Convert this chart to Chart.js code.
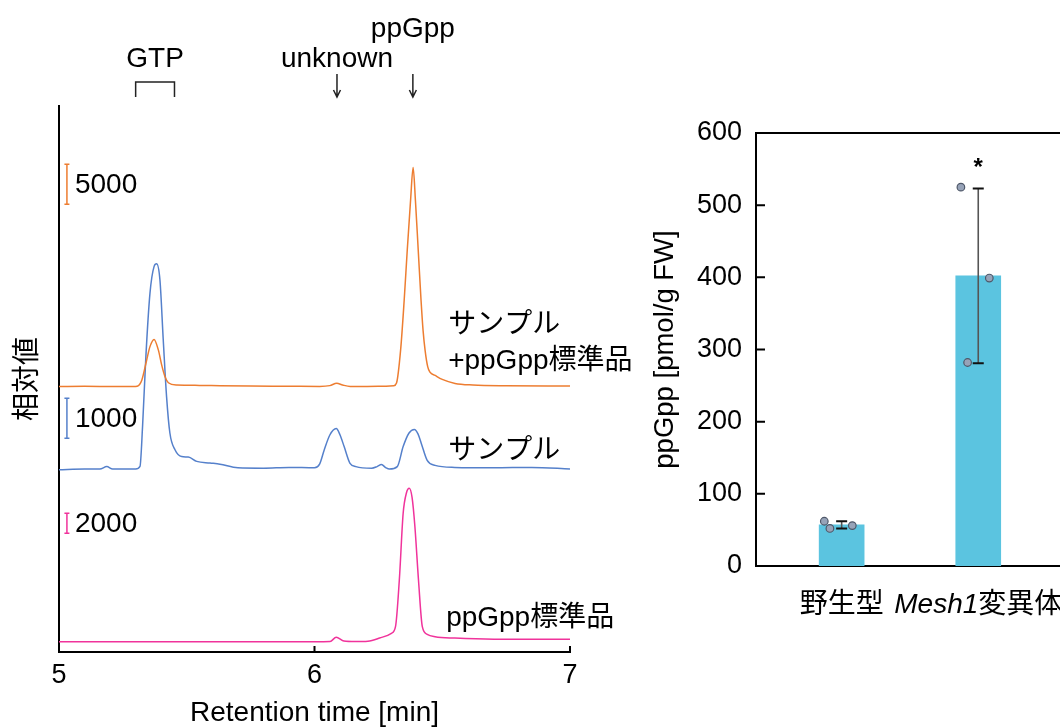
<!DOCTYPE html>
<html lang="ja">
<head>
<meta charset="utf-8">
<title>ppGpp</title>
<script src="https://cdn.jsdelivr.net/npm/chart.js@4.4.1/dist/chart.umd.min.js"></script>
<style>
  html, body { margin: 0; padding: 0; width: 1060px; height: 727px; overflow: hidden; background: #fff; }
  canvas { position: absolute; top: 0; }
  #hplc { left: 0; }
  #bars { left: 620px; }
</style>
</head>
<body>
<canvas id="hplc" width="640" height="727"></canvas>
<canvas id="bars" width="640" height="727"></canvas>
<script>
const FONT = "'Liberation Sans', Arial, 'Noto Sans CJK JP', sans-serif";
const BLACK = "#000";

Chart.defaults.font.family = FONT;
Chart.defaults.color = BLACK;

// ---- chromatograms ----
const timeTicks = [5, 6, 7];

// サンプル+ppGpp標準品 (orange)
const spikedTime = [5.00, 5.10, 5.20, 5.29, 5.306, 5.324, 5.343, 5.356, 5.372, 5.389, 5.402, 5.415, 5.428, 5.461, 5.55, 5.63, 5.75, 5.90, 6.02, 6.06, 6.087, 6.11, 6.14, 6.25, 6.31, 6.321, 6.337, 6.351, 6.363, 6.376, 6.386, 6.395, 6.406, 6.417, 6.425, 6.433, 6.443, 6.452, 6.472, 6.50, 6.55, 6.62, 6.75, 7.00];
const spikedSignal = [0, 30, 10, 0, 50, 800, 3300, 5000, 5900, 4560, 2690, 1230, 480, 190, 150, 100, 60, 40, 20, 120, 420, 200, 20, 30, 100, 440, 4560, 10800, 17060, 23300, 27400, 23300, 17060, 10800, 7000, 4500, 2500, 1800, 1400, 900, 400, 200, 100, 60];

// サンプル (blue)
const sampleTime = [5.00, 5.10, 5.16, 5.187, 5.21, 5.30, 5.317, 5.327, 5.34, 5.356, 5.372, 5.382, 5.395, 5.408, 5.421, 5.434, 5.454, 5.48, 5.506, 5.539, 5.591, 5.63, 5.70, 5.80, 5.90, 6.00, 6.02, 6.038, 6.06, 6.085, 6.10, 6.116, 6.139, 6.162, 6.224, 6.245, 6.262, 6.28, 6.293, 6.324, 6.347, 6.37, 6.391, 6.405, 6.418, 6.441, 6.472, 6.549, 6.70, 6.85, 7.00];
const sampleSignal = [-20, 0, 0, 60, 0, 0, 65, 1060, 2810, 4390, 5060, 5130, 4730, 3230, 1810, 900, 480, 310, 300, 190, 150, 120, 30, 20, 40, 30, 120, 475, 850, 1010, 850, 560, 140, 60, 20, 60, 110, 30, 0, 60, 560, 900, 990, 880, 640, 215, 90, 40, 30, 40, 0];

// ppGpp標準品 (pink)
const standardTime = [5.00, 5.50, 6.00, 6.061, 6.085, 6.115, 6.16, 6.209, 6.255, 6.301, 6.317, 6.332, 6.347, 6.36, 6.371, 6.382, 6.393, 6.407, 6.422, 6.441, 6.472, 6.549, 6.703, 7.00];
const standardSignal = [0, 0, 0, 20, 440, 70, 20, 50, 370, 840, 1500, 6170, 12840, 14900, 15340, 14400, 11500, 6170, 1500, 740, 500, 360, 250, 250];

// scale bars (signal units) and where each one starts on its trace axis
const barLengths = [5000, 1000, 2000];
const barStarts = [22800, 770, 10840];

// peak marks above the traces [min]
const gtpWindow = [5.30, 5.452];
const unknownPeak = 6.088;
const ppGppPeak = 6.385;

// ---- ppGpp content ----
const groups = ["野生型", "Mesh1変異体"];
const geneNames = ["", "Mesh1"];
const means = [57, 402];
const sds = [5, 121];
const replicates = [[62, 52, 56], [525, 399, 282]];
const marks = ["", "*"];
const valueTicks = [0, 100, 200, 300, 400, 500, 600];

// styles
const traceColors = ["#ED7D31", "#5580CB", "#F0339B"];
const traceAxes = ["yS", "yA", "yP"];
const jitter = [[-0.127, -0.086, 0.078], [-0.127, 0.081, -0.078]];
const LABEL = "28px " + FONT;

const pts = (t, v) => t.map((x, i) => ({ x, y: v[i] }));

function trace(label, t, v, i) {
  return {
    label,
    data: pts(t, v),
    yAxisID: traceAxes[i],
    borderColor: traceColors[i],
    borderWidth: 1.5,
    pointRadius: 0,
    cubicInterpolationMode: "monotone",
    fill: false,
  };
}

function text(ctx, str, x, y, align) {
  ctx.textAlign = align || "center";
  ctx.fillText(str, x, y);
}

function arrow(ctx, x, y0, y1) {
  ctx.beginPath();
  ctx.moveTo(x, y0);
  ctx.lineTo(x, y1);
  ctx.moveTo(x - 3.5, y1 - 7);
  ctx.lineTo(x, y1);
  ctx.lineTo(x + 3.5, y1 - 7);
  ctx.stroke();
}

const hplcMarks = {
  id: "hplcMarks",
  afterDraw(chart) {
    const { ctx, chartArea, scales } = chart;
    const xs = scales.x;
    ctx.save();
    ctx.lineWidth = 2;
    ctx.strokeStyle = BLACK;
    xs.ticks.forEach((t) => {
      const px = xs.getPixelForValue(t.value);
      ctx.beginPath();
      ctx.moveTo(px, chartArea.bottom);
      ctx.lineTo(px, chartArea.bottom - 6);
      ctx.stroke();
    });

    // scale bars
    const bx = xs.getPixelForValue(5.031);
    ctx.font = LABEL;
    ctx.textBaseline = "middle";
    ctx.fillStyle = BLACK;
    barLengths.forEach((len, i) => {
      const ys = scales[traceAxes[i]];
      const y0 = ys.getPixelForValue(barStarts[i]);
      const y1 = ys.getPixelForValue(barStarts[i] + len);
      ctx.strokeStyle = traceColors[i];
      ctx.lineWidth = 1.5;
      ctx.beginPath();
      ctx.moveTo(bx, y0); ctx.lineTo(bx, y1);
      ctx.moveTo(bx - 2.5, y0); ctx.lineTo(bx + 2.5, y0);
      ctx.moveTo(bx - 2.5, y1); ctx.lineTo(bx + 2.5, y1);
      ctx.stroke();
      text(ctx, String(len), bx + 8, (y0 + y1) / 2 + 1, "left");
    });

    // peak labels
    ctx.strokeStyle = "#222";
    ctx.lineWidth = 1.5;
    const g0 = xs.getPixelForValue(gtpWindow[0]);
    const g1 = xs.getPixelForValue(gtpWindow[1]);
    ctx.beginPath();
    ctx.moveTo(g0, 97); ctx.lineTo(g0, 82); ctx.lineTo(g1, 82); ctx.lineTo(g1, 97);
    ctx.stroke();
    text(ctx, "GTP", (g0 + g1) / 2, 59);
    const pu = xs.getPixelForValue(unknownPeak);
    const pp = xs.getPixelForValue(ppGppPeak);
    text(ctx, "unknown", pu, 59);
    text(ctx, "ppGpp", pp, 29);
    arrow(ctx, pu, 74, 97);
    arrow(ctx, pp, 74, 97);

    // trace names
    const lx = xs.getPixelForValue(6.523);
    text(ctx, "サンプル", lx, 325, "left");
    text(ctx, "+ppGpp標準品", lx, 361, "left");
    text(ctx, "サンプル", lx, 451, "left");
    text(ctx, "ppGpp標準品", lx - 2, 618, "left");
    ctx.restore();
  },
};

new Chart(document.getElementById("hplc"), {
  type: "line",
  data: {
    datasets: [
      trace("サンプル+ppGpp標準品", spikedTime, spikedSignal, 0),
      trace("サンプル", sampleTime, sampleSignal, 1),
      trace("ppGpp標準品", standardTime, standardSignal, 2),
    ],
  },
  options: {
    responsive: false,
    animation: false,
    devicePixelRatio: 1,
    layout: { padding: { left: 0, top: 106, right: 70, bottom: 0 } },
    plugins: { legend: { display: false }, tooltip: { enabled: false } },
    scales: {
      x: {
        type: "linear",
        min: 5,
        max: 7,
        afterBuildTicks: (s) => { s.ticks = timeTicks.map((value) => ({ value })); },
        grid: { display: false, drawTicks: false },
        border: { display: true, color: BLACK, width: 2 },
        ticks: { font: { size: 27 }, color: BLACK, padding: 7 },
        title: { display: true, text: "Retention time [min]", font: { size: 28, lineHeight: 1 }, color: BLACK, padding: 0 },
        afterFit: (s) => { s.height = 75; },
      },
      yS: {
        type: "linear",
        position: "left",
        min: -33200,
        max: 35100,
        grid: { display: false, drawTicks: false },
        border: { display: true, color: BLACK, width: 2 },
        ticks: { display: false },
        title: { display: true, text: "相対値", font: { size: 28, lineHeight: 1 }, color: BLACK, padding: { top: 14, bottom: 0 } },
        afterFit: (s) => { s.width = 59; },
      },
      yA: { type: "linear", display: false, min: -4575, max: 9075 },
      yP: { type: "linear", display: false, min: -1030, max: 53570 },
    },
  },
  plugins: [hplcMarks],
});

const barMarks = {
  id: "barMarks",
  afterDatasetDraw(chart, args) {
    if (args.index !== 1) return;
    const { ctx, scales } = chart;
    ctx.save();
    means.forEach((m, i) => {
      const x = scales.x.getPixelForValue(i);
      const top = scales.y.getPixelForValue(m + sds[i]);
      const bot = scales.y.getPixelForValue(m - sds[i]);
      ctx.strokeStyle = "#555";
      ctx.lineWidth = 1.6;
      ctx.beginPath();
      ctx.moveTo(x, top); ctx.lineTo(x, bot);
      ctx.stroke();
      ctx.strokeStyle = "#111";
      ctx.lineWidth = 2;
      ctx.beginPath();
      ctx.moveTo(x - 5.5, top); ctx.lineTo(x + 5.5, top);
      ctx.moveTo(x - 5.5, bot); ctx.lineTo(x + 5.5, bot);
      ctx.stroke();
    });
    ctx.restore();
  },
  afterDraw(chart) {
    const { ctx, chartArea, scales } = chart;
    ctx.save();
    ctx.strokeStyle = BLACK;
    ctx.lineWidth = 2;
    ctx.beginPath();
    ctx.moveTo(chartArea.left, chartArea.top);
    ctx.lineTo(chartArea.right, chartArea.top);
    scales.y.ticks.forEach((t) => {
      const py = scales.y.getPixelForValue(t.value);
      ctx.moveTo(chartArea.left, py);
      ctx.lineTo(chartArea.left + 9, py);
    });
    ctx.stroke();

    ctx.fillStyle = BLACK;
    ctx.textBaseline = "middle";
    groups.forEach((g, i) => {
      const x = scales.x.getPixelForValue(i);
      const gene = geneNames[i];
      const rest = gene ? g.slice(gene.length) : g;
      ctx.font = "italic " + LABEL;
      const wg = gene ? ctx.measureText(gene).width : 0;
      ctx.font = LABEL;
      const wr = ctx.measureText(rest).width;
      let left = x - (wg + wr) / 2;
      ctx.textAlign = "left";
      if (gene) {
        ctx.font = "italic " + LABEL;
        ctx.fillText(gene, left, 605);
        left += wg;
      }
      ctx.font = LABEL;
      ctx.fillText(rest, left, 605);

      if (marks[i]) {
        ctx.font = "bold 24px " + FONT;
        ctx.textAlign = "center";
        ctx.textBaseline = "alphabetic";
        ctx.fillText(marks[i], x, scales.y.getPixelForValue(means[i] + sds[i]) - 14);
        ctx.textBaseline = "middle";
      }
    });
    ctx.restore();
  },
};

new Chart(document.getElementById("bars"), {
  type: "bar",
  data: {
    datasets: [
      {
        type: "scatter",
        data: replicates.flatMap((vals, i) => vals.map((v, k) => ({ x: i + jitter[i][k], y: v }))),
        backgroundColor: "#97a3b8",
        borderColor: "#4f5869",
        borderWidth: 1.2,
        pointRadius: 3.8,
      },
      {
        type: "bar",
        data: means.map((m, i) => ({ x: i, y: m })),
        backgroundColor: "#5BC4E0",
        barThickness: 45,
      },
    ],
  },
  options: {
    responsive: false,
    animation: false,
    devicePixelRatio: 1,
    layout: { padding: { left: 0, top: 133, right: 59.5, bottom: 161 } },
    plugins: { legend: { display: false }, tooltip: { enabled: false } },
    scales: {
      x: {
        type: "linear",
        offset: false,
        min: -0.627,
        max: 2.627,
        grid: { display: false, drawTicks: false, offset: false },
        ticks: { display: false },
        border: { display: true, color: BLACK, width: 2 },
        afterFit: (s) => { s.height = 0; },
      },
      y: {
        type: "linear",
        min: 0,
        max: 600,
        afterBuildTicks: (s) => { s.ticks = valueTicks.map((value) => ({ value })); },
        grid: { display: false, drawTicks: false },
        border: { display: true, color: BLACK, width: 2 },
        ticks: { font: { size: 27 }, color: BLACK, padding: 14 },
        title: { display: true, text: "ppGpp [pmol/g FW]", font: { size: 27.5, lineHeight: 1 }, color: BLACK, padding: { top: 31.5, bottom: 0 } },
        afterFit: (s) => { s.width = 136; },
      },
    },
  },
  plugins: [barMarks],
});
</script>
</body>
</html>
